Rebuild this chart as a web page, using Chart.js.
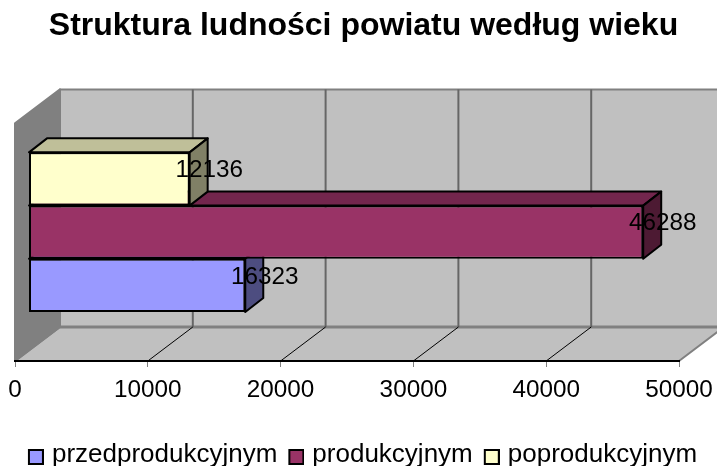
<!DOCTYPE html>
<html>
<head>
<meta charset="utf-8">
<style>
  html, body { margin: 0; padding: 0; background: #fff; }
  canvas { display: block; }
</style>
<script src="https://cdn.jsdelivr.net/npm/chart.js@4/dist/chart.umd.js"></script>
</head>
<body>
<canvas id="chart" width="717" height="466"></canvas>
<script>
var categories = ['ludność'];
var seriesNames = ['przedprodukcyjnym', 'produkcyjnym', 'poprodukcyjnym'];
var przedprodukcyjnym = [16323];
var produkcyjnym = [46288];
var poprodukcyjnym = [12136];
var axisMax = 50000;
var axisStep = 10000;

var fontName = '"Liberation Sans", Arial, sans-serif';

// glebokosc sciany wykresu i przesuniecia slupkow w pseudo 3D
var wall = { dx: 45, dy: 34 };
var barPlane = { dx: 13.5, dy: 10 };
var barDepth = { dx: 18, dy: 14 };

// kolory: przod, gora, bok
var shades = [
  { front: '#9999FF', top: '#7373BF', side: '#4D4D80' },
  { front: '#993366', top: '#73264D', side: '#4D1A33' },
  { front: '#FFFFCC', top: '#BFBF99', side: '#808066' }
];

function poly(ctx, pts, fill, stroke, width) {
  ctx.beginPath();
  ctx.moveTo(pts[0][0], pts[0][1]);
  for (var i = 1; i < pts.length; i++) ctx.lineTo(pts[i][0], pts[i][1]);
  ctx.closePath();
  ctx.fillStyle = fill;
  ctx.fill();
  ctx.lineWidth = width;
  ctx.strokeStyle = stroke;
  ctx.lineJoin = 'round';
  ctx.stroke();
}

// kwadracik legendy wiekszy niz pole, ktore rezerwuje Chart.js
function legendSwatch(color) {
  var c = document.createElement('canvas');
  c.width = 19;
  c.height = 20;
  var g = c.getContext('2d');
  g.fillStyle = color;
  g.fillRect(4, 5, 14, 14);
  g.lineWidth = 2;
  g.strokeStyle = '#000';
  g.strokeRect(4, 5, 14, 14);
  return c;
}

var box3d = {
  id: 'box3d',
  // sciany i podloga
  beforeDraw: function (chart) {
    var ctx = chart.ctx, a = chart.chartArea, x = chart.scales.x;
    ctx.save();
    poly(ctx, [[a.left + wall.dx, a.top - wall.dy], [a.right + wall.dx, a.top - wall.dy],
      [a.right + wall.dx, a.bottom - wall.dy], [a.left + wall.dx, a.bottom - wall.dy]], '#C0C0C0', '#808080', 2);
    poly(ctx, [[a.left, a.bottom], [a.right, a.bottom], [a.right + wall.dx, a.bottom - wall.dy],
      [a.left + wall.dx, a.bottom - wall.dy]], '#C0C0C0', '#808080', 2);
    poly(ctx, [[a.left, a.top], [a.left + wall.dx, a.top - wall.dy], [a.left + wall.dx, a.bottom - wall.dy],
      [a.left, a.bottom]], '#808080', '#808080', 2);
    ctx.beginPath();
    ctx.moveTo(a.left + wall.dx, a.bottom - wall.dy);
    ctx.lineTo(a.right + wall.dx, a.bottom - wall.dy);
    ctx.lineWidth = 3;
    ctx.strokeStyle = '#808080';
    ctx.stroke();
    x.ticks.forEach(function (t) {
      if (t.value === 0 || t.value === axisMax) return;
      var px = x.getPixelForValue(t.value);
      ctx.beginPath();
      ctx.moveTo(px + wall.dx, a.top - wall.dy);
      ctx.lineTo(px + wall.dx, a.bottom - wall.dy);
      ctx.lineWidth = 2;
      ctx.strokeStyle = '#666666';
      ctx.stroke();
      ctx.beginPath();
      ctx.moveTo(px, a.bottom);
      ctx.lineTo(px + wall.dx, a.bottom - wall.dy);
      ctx.lineWidth = 1;
      ctx.strokeStyle = '#000000';
      ctx.stroke();
    });
    ctx.restore();
  },
  // gora i bok slupka, przod rysuje sam Chart.js
  beforeDatasetDraw: function (chart, args) {
    var ctx = chart.ctx;
    ctx.save();
    ctx.translate(barPlane.dx, -barPlane.dy);
    var s = shades[args.index];
    chart.getDatasetMeta(args.index).data.forEach(function (b) {
      var top = b.y - b.height / 2, bot = b.y + b.height / 2;
      var d = barDepth;
      poly(ctx, [[b.base, top], [b.base + d.dx, top - d.dy], [b.x + d.dx, top - d.dy], [b.x, top]], s.top, '#000', 2);
      poly(ctx, [[b.x, top], [b.x + d.dx, top - d.dy], [b.x + d.dx, bot - d.dy], [b.x, bot]], s.side, '#000', 2);
    });
  },
  afterDatasetDraw: function (chart) {
    chart.ctx.restore();
  },
  // etykiety wartosci
  afterDatasetsDraw: function (chart) {
    var ctx = chart.ctx;
    ctx.save();
    ctx.font = '24.3px ' + fontName;
    ctx.fillStyle = '#000';
    ctx.textAlign = 'center';
    ctx.textBaseline = 'middle';
    chart.data.datasets.forEach(function (ds, i) {
      chart.getDatasetMeta(i).data.forEach(function (b, j) {
        ctx.fillText(String(ds.data[j]), b.x + barPlane.dx + 19.5, b.y - barPlane.dy - 8.5);
      });
    });
    ctx.restore();
  }
};

Chart.defaults.color = '#000';

new Chart(document.getElementById('chart'), {
  type: 'bar',
  plugins: [box3d],
  data: {
    labels: categories,
    datasets: [
      { label: seriesNames[0], data: przedprodukcyjnym, order: 3, backgroundColor: shades[0].front, pointStyle: legendSwatch(shades[0].front) },
      { label: seriesNames[1], data: produkcyjnym, order: 2, backgroundColor: shades[1].front, pointStyle: legendSwatch(shades[1].front) },
      { label: seriesNames[2], data: poprodukcyjnym, order: 1, backgroundColor: shades[2].front, pointStyle: legendSwatch(shades[2].front) }
    ]
  },
  options: {
    indexAxis: 'y',
    responsive: false,
    animation: false,
    clip: false,
    borderColor: '#000',
    borderWidth: 2,
    borderSkipped: false,
    barPercentage: 1,
    categoryPercentage: 0.672,
    layout: { padding: { left: 10, right: 0, top: 0, bottom: -12 } },
    scales: {
      x: {
        min: 0,
        max: axisMax,
        afterFit: function (scale) {
          scale.paddingLeft = 15;
          scale.paddingRight = 38;
          scale.height = 68;
        },
        ticks: {
          stepSize: axisStep,
          maxRotation: 0,
          padding: 9,
          color: '#000',
          font: { family: fontName, size: 24.3 },
          callback: function (v) { return String(v); }
        },
        grid: { drawOnChartArea: false, drawTicks: true, tickLength: 6, color: '#808080' },
        border: { color: '#000', width: 2 }
      },
      y: { display: false }
    },
    plugins: {
      tooltip: { enabled: false },
      title: {
        display: true,
        text: 'Struktura ludności powiatu według wieku',
        color: '#000',
        font: { family: fontName, size: 32, weight: 'bold' },
        padding: { top: 7, bottom: 78 }
      },
      legend: {
        position: 'bottom',
        labels: {
          usePointStyle: true,
          boxWidth: 9,
          boxHeight: 15,
          padding: 13,
          color: '#000',
          font: { family: fontName, size: 26 },
          sort: function (a, b) { return a.datasetIndex - b.datasetIndex; }
        }
      }
    }
  }
});
</script>
</body>
</html>
